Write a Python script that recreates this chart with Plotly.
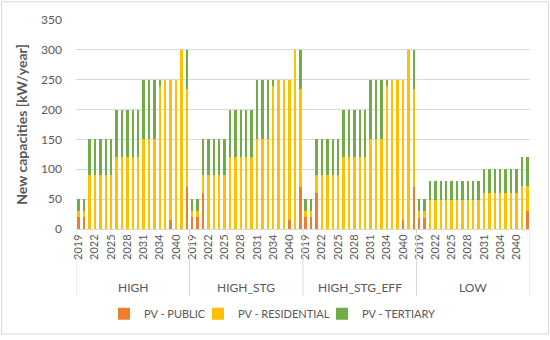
import plotly.graph_objects as go

scenarios = ["HIGH", "HIGH_STG", "HIGH_STG_EFF", "LOW"]
years = [2019, 2020, 2021, 2022, 2023, 2024, 2025, 2026, 2027, 2028, 2029,
         2030, 2031, 2032, 2033, 2034, 2035, 2036, 2040, 2045, 2050]

public = {
    "HIGH":         [20, 20, 0, 0, 0, 0, 0, 0, 0, 0, 0, 0, 0, 0, 0, 0, 0, 15, 0, 0, 70],
    "HIGH_STG":     [20, 20, 60, 0, 0, 0, 0, 0, 0, 0, 0, 0, 0, 0, 0, 0, 0, 0, 15, 0, 70],
    "HIGH_STG_EFF": [20, 20, 60, 0, 0, 0, 0, 0, 0, 0, 0, 0, 0, 0, 0, 0, 0, 0, 15, 0, 70],
    "LOW":          [18, 18, 0, 0, 0, 0, 0, 0, 0, 0, 0, 0, 0, 0, 0, 0, 0, 0, 0, 0, 30],
}
residential = {
    "HIGH":         [10, 10, 90, 90, 90, 90, 90, 120, 120, 120, 120, 120, 150, 150, 150, 240, 250, 235, 250, 300, 165],
    "HIGH_STG":     [10, 10, 30, 90, 90, 90, 90, 120, 120, 120, 120, 120, 150, 150, 150, 240, 250, 250, 235, 300, 165],
    "HIGH_STG_EFF": [10, 10, 30, 90, 90, 90, 90, 120, 120, 120, 120, 120, 150, 150, 150, 240, 250, 250, 235, 300, 165],
    "LOW":          [12, 12, 48, 48, 48, 48, 48, 48, 48, 48, 48, 48, 60, 60, 60, 60, 60, 60, 60, 72, 42],
}
tertiary = {
    "HIGH":         [20, 20, 60, 60, 60, 60, 60, 80, 80, 80, 80, 80, 100, 100, 100, 10, 0, 0, 0, 0, 65],
    "HIGH_STG":     [20, 20, 60, 60, 60, 60, 60, 80, 80, 80, 80, 80, 100, 100, 100, 10, 0, 0, 0, 0, 65],
    "HIGH_STG_EFF": [20, 20, 60, 60, 60, 60, 60, 80, 80, 80, 80, 80, 100, 100, 100, 10, 0, 0, 0, 0, 65],
    "LOW":          [20, 20, 32, 32, 32, 32, 32, 32, 32, 32, 32, 32, 40, 40, 40, 40, 40, 40, 40, 48, 48],
}
label_step = 3

series = [("PV - PUBLIC", public, "#ED7D31"),
          ("PV - RESIDENTIAL", residential, "#FFC000"),
          ("PV - TERTIARY", tertiary, "#70AD47")]

cats = [f"{s}|{y}" for s in scenarios for y in years]

FONT = "Lato"
GREY = "#595959"
LINE = "#D9D9D9"
L, R, T, B = 76, 20, 20, 108
pw, ph = 550 - L - R, 340 - T - B

legend_ids = ["legend", "legend2", "legend3"]
legend_text_px = [144, 238, 362]

fig = go.Figure()
for (name, data, color), lid in zip(series, legend_ids):
    vals = [v for s in scenarios for v in data[s]]
    fig.add_trace(go.Bar(x=cats, y=vals, name=name, marker_color=color,
                         marker_line_width=0, legend=lid))

tickvals = [f"{s}|{y}" for s in scenarios for i, y in enumerate(years) if i % label_step == 0]
ticktext = [str(y) for s in scenarios for i, y in enumerate(years) if i % label_step == 0]

n = len(years)
shapes = []
for g in range(len(scenarios) + 1):
    shapes.append(dict(type="line", xref="x", yref="paper",
                       x0=g * n - 0.5, x1=g * n - 0.5, y0=0, y1=-0.32,
                       line=dict(color=LINE, width=1)))
shapes.append(dict(type="rect", xref="paper", yref="paper",
                   x0=(1.5 - L) / pw, x1=(548.5 - L) / pw,
                   y0=(1.5 - B) / ph, y1=(340 - 1.5 - B) / ph,
                   line=dict(color=LINE, width=1)))

annotations = []
for g, s in enumerate(scenarios):
    annotations.append(dict(x=g * n + (n - 1) / 2, y=-0.28, xref="x", yref="paper",
                            text=s, showarrow=False, yanchor="middle",
                            font=dict(family=FONT, size=12, color=GREY)))

legend_layout = {}
for lid, tx in zip(legend_ids, legend_text_px):
    legend_layout[lid] = dict(orientation="h", x=(tx - 40 - L) / pw, xanchor="left",
                              y=-0.405, yanchor="middle",
                              font=dict(family=FONT, size=11, color=GREY),
                              itemwidth=30, bgcolor="rgba(0,0,0,0)")

fig.update_layout(
    width=550, height=340,
    margin=dict(l=L, r=R, t=T, b=B),
    barmode="stack", bargap=0.55,
    plot_bgcolor="white", paper_bgcolor="white",
    font=dict(family=FONT, size=12, color=GREY),
    showlegend=True,
    shapes=shapes, annotations=annotations,
    **legend_layout,
)
fig.update_xaxes(type="category", categoryorder="array", categoryarray=cats,
                 tickmode="array", tickvals=tickvals, ticktext=ticktext,
                 tickangle=-90, tickfont=dict(family=FONT, size=11, color=GREY),
                 showgrid=False, showline=True, linecolor=LINE, ticks="",
                 range=[-0.5, len(cats) - 0.5])
fig.update_yaxes(range=[0, 350], dtick=50, showgrid=True, gridcolor=LINE,
                 zeroline=False, showline=False, ticks="",
                 tickfont=dict(family=FONT, size=12, color=GREY),
                 ticklabelstandoff=13,
                 title=dict(text="<b>New capacities [kW/year]</b>", standoff=10,
                            font=dict(family=FONT, size=14, color=GREY)))

fig.write_html("out.html", config={"displayModeBar": False},
               post_script="document.body.style.margin='0';document.body.style.overflow='hidden';")
